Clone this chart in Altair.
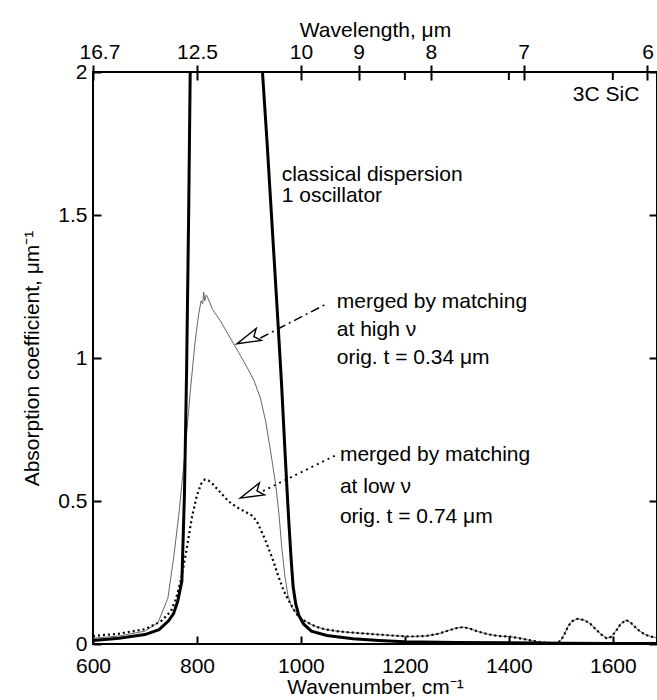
import altair as alt
import pandas as pd

# ---------------- data ----------------
X_DOMAIN = [600, 1685]
Y_DOMAIN = [0, 2]
x_ticks = [600, 800, 1000, 1200, 1400, 1600]
y_ticks = [0, 0.5, 1, 1.5, 2]
top_um = [16.667, 12.5, 10, 9, 8, 7, 6]          # wavelength tick labels (µm)
top_minor_wn = [1200, 1400, 1600]                # inner mirror ticks on top axis

# classical dispersion, 1 oscillator (goes off scale)
thick_wn = [600, 650, 700, 727, 745, 755, 763, 771, 776, 780, 784, 787, 790, 800,
            900, 922, 926, 935, 945, 955, 963, 970, 976, 981, 985, 990, 996, 1005,
            1020, 1050, 1100, 1150, 1200, 1300, 1400, 1500, 1600, 1685]
thick_abs = [0.012, 0.02, 0.033, 0.05, 0.08, 0.106, 0.15, 0.22, 0.53, 0.95, 1.5, 2.0, 2.5, 6,
             6, 2.3, 2.0, 1.75, 1.45, 1.15, 0.9, 0.65, 0.45, 0.3, 0.2, 0.14, 0.1, 0.07,
             0.045, 0.03, 0.018, 0.012, 0.008, 0.005, 0.004, 0.003, 0.002, 0.002]

# merged at high nu (t = 0.34 um), band region
thin_wn = [600, 650, 700, 725, 744, 755, 765, 776, 787, 796, 803, 808, 811, 813, 815, 818,
           821, 830, 845, 864, 880, 897, 910, 922, 932, 942, 952, 958, 963, 969, 975, 982,
           990, 996]
thin_abs = [0.02, 0.028, 0.045, 0.075, 0.16, 0.3, 0.45, 0.65, 0.88, 1.05, 1.15, 1.2, 1.19,
            1.23, 1.2, 1.22, 1.21, 1.17, 1.13, 1.07, 1.02, 0.965, 0.92, 0.86, 0.78, 0.67,
            0.55, 0.45, 0.34, 0.24, 0.17, 0.13, 0.11, 0.1]

# merged at low nu (t = 0.74 um), band region
dot_wn = [600, 650, 700, 730, 750, 760, 770, 780, 790, 800, 808, 815, 822, 830, 845, 860,
          875, 890, 905, 915, 930, 945, 956, 966, 977, 988, 996]
dot_abs = [0.028, 0.036, 0.052, 0.078, 0.115, 0.16, 0.23, 0.33, 0.44, 0.52, 0.56, 0.575,
           0.572, 0.56, 0.53, 0.5, 0.48, 0.465, 0.45, 0.43, 0.37, 0.3, 0.24, 0.19, 0.15,
           0.115, 0.095]

# common high-wavenumber part of both merged spectra
base_wn = [1000, 1008, 1018, 1030, 1045, 1065, 1090, 1120, 1150, 1180, 1210, 1240, 1265,
           1285, 1300, 1312, 1325, 1340, 1360, 1380, 1400, 1415, 1435, 1455, 1475, 1492,
           1500, 1507, 1514, 1522, 1532, 1545, 1557, 1568, 1578, 1588, 1597, 1606, 1615,
           1626, 1636, 1648, 1660, 1672, 1685]
base_abs = [0.09, 0.08, 0.07, 0.06, 0.052, 0.046, 0.041, 0.037, 0.033, 0.029, 0.026, 0.028,
            0.036, 0.048, 0.056, 0.059, 0.054, 0.044, 0.034, 0.028, 0.026, 0.022, 0.015,
            0.008, 0.004, 0.004, 0.012, 0.035, 0.062, 0.08, 0.088, 0.084, 0.07, 0.05, 0.033,
            0.02, 0.025, 0.045, 0.07, 0.084, 0.072, 0.05, 0.035, 0.026, 0.022]

# annotations (data coordinates)
label_text = ["3C SiC", "classical dispersion", "1 oscillator",
              "merged by matching", "at high ν", "orig. t = 0.34 μm",
              "merged by matching", "at low ν", "orig. t = 0.74 μm"]
label_x = [1651, 963, 963, 1069, 1069, 1069, 1075, 1075, 1075]
label_y = [1.92, 1.64, 1.565, 1.196, 1.098, 1.0, 0.66, 0.55, 0.444]
label_align = ["right", "left", "left", "left", "left", "left", "left", "left", "left"]

# arrows: base of head -> end near text, and tips
arrow_hi_x = [922, 1050]
arrow_hi_y = [1.07, 1.19]
arrow_lo_x = [927, 1067]
arrow_lo_y = [0.535, 0.66]
tip_x = [877, 883]
tip_y = [1.05, 0.51]

FONT = "Liberation Sans"
FS = 21

# ---------------- chart ----------------
xs = alt.Scale(domain=X_DOMAIN, nice=False, zero=False)
ys = alt.Scale(domain=Y_DOMAIN, nice=False, zero=False)

x_axis = alt.Axis(values=x_ticks, title="Wavenumber, cm⁻¹", domain=False, offset=-8,
                  tickSize=8, labelPadding=11, labelFlush=False, titlePadding=0, format="d")
y_axis = alt.Axis(values=y_ticks, title="Absorption coefficient, μm⁻¹", domain=False,
                  offset=-8, tickSize=8, labelPadding=6, labelFlush=False, format="~g",
                  titlePadding=15)

thick_df = pd.DataFrame({"wn": thick_wn, "a": thick_abs})
thin_df = pd.DataFrame({"wn": thin_wn + base_wn, "a": thin_abs + base_abs})
dot_df = pd.DataFrame({"wn": dot_wn + base_wn, "a": dot_abs + base_abs})

thin = alt.Chart(thin_df).mark_line(clip=True, color="#555555", strokeWidth=0.9).encode(
    x=alt.X("wn:Q", scale=xs, axis=x_axis), y=alt.Y("a:Q", scale=ys, axis=y_axis),
    order="wn:Q")
dots = alt.Chart(dot_df).mark_line(clip=True, color="black", strokeWidth=2.2,
                                   strokeDash=[2, 3]).encode(
    x=alt.X("wn:Q", scale=xs), y=alt.Y("a:Q", scale=ys), order="wn:Q")
thick = alt.Chart(thick_df).mark_line(clip=True, color="black", strokeWidth=3).encode(
    x=alt.X("wn:Q", scale=xs), y=alt.Y("a:Q", scale=ys), order="wn:Q")

lab_df = pd.DataFrame({"x": label_x, "y": label_y, "t": label_text, "al": label_align})
labels_left = alt.Chart(lab_df[lab_df.al == "left"]).mark_text(
    align="left", baseline="middle", font=FONT, fontSize=FS, color="black").encode(
    x=alt.X("x:Q", scale=xs), y=alt.Y("y:Q", scale=ys), text="t:N")
labels_right = alt.Chart(lab_df[lab_df.al == "right"]).mark_text(
    align="right", baseline="middle", font=FONT, fontSize=FS, color="black").encode(
    x=alt.X("x:Q", scale=xs), y=alt.Y("y:Q", scale=ys), text="t:N")

hi_line = alt.Chart(pd.DataFrame({"x": arrow_hi_x, "y": arrow_hi_y})).mark_line(
    color="black", strokeWidth=1.5, strokeDash=[9, 4, 2, 4]).encode(
    x=alt.X("x:Q", scale=xs), y=alt.Y("y:Q", scale=ys))
lo_line = alt.Chart(pd.DataFrame({"x": arrow_lo_x, "y": arrow_lo_y})).mark_line(
    color="black", strokeWidth=1.8, strokeDash=[2, 4]).encode(
    x=alt.X("x:Q", scale=xs), y=alt.Y("y:Q", scale=ys))
heads = alt.Chart(pd.DataFrame({"x": tip_x, "y": tip_y})).mark_point(
    shape="M0,0 L-2,-0.55 L-1.55,0 L-2,0.55 Z", filled=False, color="black",
    strokeWidth=1.4, size=560, angle=157, opacity=1).encode(
    x=alt.X("x:Q", scale=xs), y=alt.Y("y:Q", scale=ys))

minor = alt.Chart(pd.DataFrame({"x": top_minor_wn})).mark_rule(
    color="black", strokeWidth=2).encode(
    x=alt.X("x:Q", scale=xs), y=alt.value(0), y2=alt.value(8))

main = alt.layer(thin, dots, thick, hi_line, lo_line, heads, labels_left, labels_right, minor)

top_vals = [min(max(10000.0 / u, X_DOMAIN[0]), X_DOMAIN[1]) for u in top_um]
top_layer = alt.Chart(pd.DataFrame({"w": top_vals})).mark_point(opacity=0).encode(
    x=alt.X("w:Q", scale=alt.Scale(domain=X_DOMAIN, nice=False, zero=False),
            axis=alt.Axis(orient="top", values=top_vals, title="Wavelength, μm",
                          labelExpr="format(10000/datum.value, '.3~r')", domain=False,
                          offset=-8, tickSize=15, labelPadding=3, labelFlush=True,
                          labelFlushOffset=14, labelOverlap=False, titlePadding=1)))
right_layer = alt.Chart(pd.DataFrame({"v": y_ticks})).mark_point(opacity=0).encode(
    y=alt.Y("v:Q", scale=alt.Scale(domain=Y_DOMAIN, nice=False, zero=False),
            axis=alt.Axis(orient="right", values=y_ticks, labels=False, title=None,
                          domain=False, offset=-8, tickSize=8)))

chart = alt.layer(main, top_layer, right_layer).resolve_scale(
    x="independent", y="independent"
).properties(
    width=564, height=572,
    autosize=alt.AutoSizeParams(type="none"),
    padding={"left": 93, "top": 72, "right": 0, "bottom": 56},
    background="white",
).configure_view(
    stroke="black", strokeWidth=2
).configure_axis(
    labelFont=FONT, titleFont=FONT, labelFontSize=FS, titleFontSize=FS,
    labelColor="black", titleColor="black", tickColor="black", tickWidth=2,
    titleFontWeight="normal", grid=False
)

chart.save("out.html", embed_options={"renderer": "svg", "actions": False})
